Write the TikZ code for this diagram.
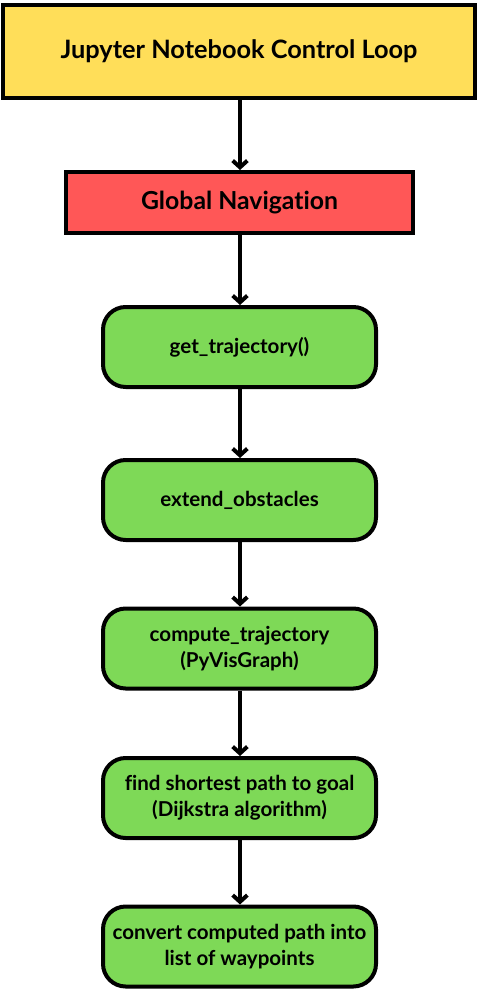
\documentclass[tikz,border=0pt]{standalone}
\usepackage{fontspec}
\setmainfont[Ligatures=NoCommon]{Lato}
\usetikzlibrary{arrows.meta}
\definecolor{loopfill}{HTML}{FFDE59}
\definecolor{navfill}{HTML}{FF5757}
\definecolor{stepfill}{HTML}{7ED957}
\tikzset{
    every node/.style={align=center, font=\bfseries, line width=3pt, draw},
    loopbox/.style={fill=loopfill, minimum width=354pt, minimum height=69.75pt,
        font=\fontsize{19}{22}\selectfont\bfseries},
    navbox/.style={fill=navfill, minimum width=260.25pt, minimum height=45.75pt,
        font=\fontsize{18.6}{22}\selectfont\bfseries},
    stepbox/.style={fill=stepfill, rounded corners=17pt, minimum width=204.75pt,
        minimum height=60pt, font=\fontsize{15.4}{19.5}\selectfont\bfseries},
    flow/.style={line width=3pt, -{Straight Barb[length=5pt, width=11pt]}},
}

\begin{document}
\begin{tikzpicture}[x=0.75pt, y=-0.75pt]
        \useasboundingbox (0, 0) rectangle (480, 991);
        \node[loopbox] (loop) at (239, 51.5) {Jupyter Notebook Control Loop};
        \node[navbox] (nav) at (239.5, 202.5) {Global Navigation};
        \node[stepbox] (get) at (239.5, 347) {get\_trajectory()};
        \node[stepbox] (ext) at (239.5, 500) {extend\_obstacles};
        \node[stepbox] (comp) at (239.5, 648.5)
            {compute\_trajectory\\(PyVisGraph)};
        \node[stepbox] (dijk) at (239.5, 798)
            {find shortest path to goal\\(Dijkstra algorithm)};
        \node[stepbox] (way) at (239.5, 946.5)
            {convert computed path into\\list of waypoints};
        \foreach \a/\b in {loop/nav, nav/get, get/ext, ext/comp, comp/dijk,
            dijk/way}
            \draw[flow] (\a.south -| 240, 0) -- (\b.north -| 240, 0);
    \end{tikzpicture}
\end{document}
